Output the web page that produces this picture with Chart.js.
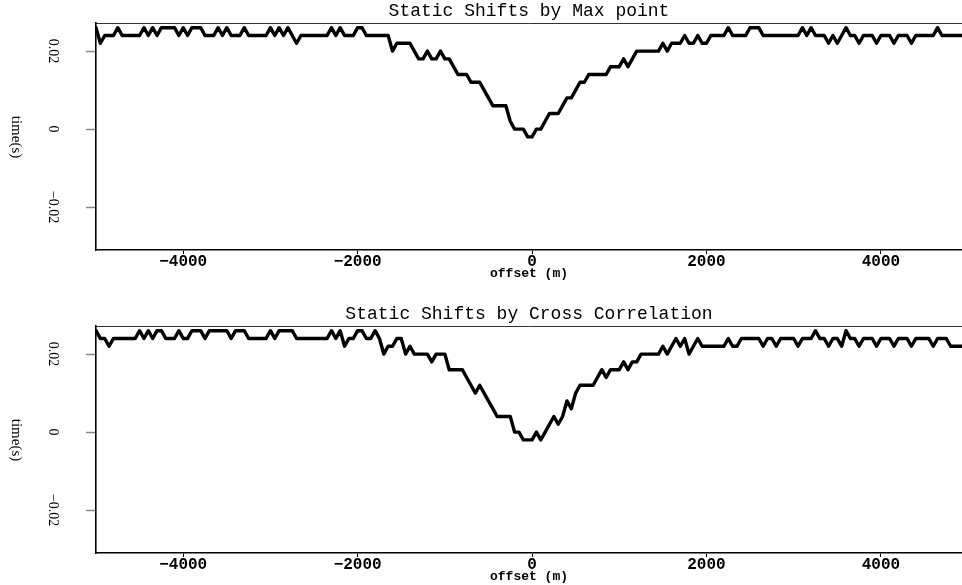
<!DOCTYPE html>
<html>
<head>
<meta charset="utf-8">
<script src="https://cdn.jsdelivr.net/npm/chart.js@4.4.1/dist/chart.umd.min.js"></script>
<style>
html,body{margin:0;padding:0;background:#fff;overflow:hidden;width:962px;height:585px;}
.panel{position:absolute;left:0;width:962px;height:303px;}
.ylab{position:absolute;font-family:"Liberation Serif",serif;font-size:15px;writing-mode:vertical-rl;transform:translate(-50%,-50%);white-space:nowrap;color:#000;line-height:1;}
</style>
</head>
<body>
<div class="panel" style="top:0"><canvas id="c1" width="962" height="303"></canvas></div>
<div class="panel" style="top:303px"><canvas id="c2" width="962" height="303"></canvas></div>
<div class="ylab" style="left:16px;top:137px">time(s)</div>
<div class="ylab" style="left:16px;top:440px">time(s)</div>
<script>
// ---- data ----
const panelTitles = ['Static Shifts by Max point', 'Static Shifts by Cross Correlation'];
const xAxisTitle = 'offset (m)';
const yAxisTitle = 'time(s)';
const xTickValues = [-4000, -2000, 0, 2000, 4000];
const xTickLabels = ['\u22124000', '\u22122000', '0', '2000', '4000'];
const yTickValues = [-0.02, 0, 0.02];
const yTickLabels = ['\u22120.02', '0', '0.02'];

const offsets = [
-5000,-4950,-4900,-4850,-4800,-4750,-4700,-4650,-4600,-4550,-4500,-4450,-4400,-4350,-4300,-4250,-4200,-4150,-4100,-4050,
-4000,-3950,-3900,-3850,-3800,-3750,-3700,-3650,-3600,-3550,-3500,-3450,-3400,-3350,-3300,-3250,-3200,-3150,-3100,-3050,
-3000,-2950,-2900,-2850,-2800,-2750,-2700,-2650,-2600,-2550,-2500,-2450,-2400,-2350,-2300,-2250,-2200,-2150,-2100,-2050,
-2000,-1950,-1900,-1850,-1800,-1750,-1700,-1650,-1600,-1550,-1500,-1450,-1400,-1350,-1300,-1250,-1200,-1150,-1100,-1050,
-1000,-950,-900,-850,-800,-750,-700,-650,-600,-550,-500,-450,-400,-350,-300,-250,-200,-150,-100,-50,
0,50,100,150,200,250,300,350,400,450,500,550,600,650,700,750,800,850,900,950,
1000,1050,1100,1150,1200,1250,1300,1350,1400,1450,1500,1550,1600,1650,1700,1750,1800,1850,1900,1950,
2000,2050,2100,2150,2200,2250,2300,2350,2400,2450,2500,2550,2600,2650,2700,2750,2800,2850,2900,2950,
3000,3050,3100,3150,3200,3250,3300,3350,3400,3450,3500,3550,3600,3650,3700,3750,3800,3850,3900,3950,
4000,4050,4100,4150,4200,4250,4300,4350,4400,4450,4500,4550,4600,4650,4700,4750,4800,4850,4900,4950
];

const maxPointShift = [
0.026,0.022,0.024,0.024,0.024,0.026,0.024,0.024,0.024,0.024,0.024,0.026,0.024,0.026,0.024,0.026,0.026,0.026,0.026,0.024,
0.026,0.024,0.026,0.026,0.026,0.024,0.024,0.024,0.026,0.024,0.026,0.024,0.024,0.024,0.026,0.024,0.024,0.024,0.024,0.024,
0.026,0.024,0.026,0.024,0.026,0.024,0.022,0.024,0.024,0.024,0.024,0.024,0.024,0.024,0.026,0.024,0.026,0.024,0.024,0.024,
0.026,0.026,0.024,0.024,0.024,0.024,0.024,0.024,0.020,0.022,0.022,0.022,0.022,0.020,0.018,0.018,0.020,0.018,0.018,0.020,
0.018,0.018,0.016,0.014,0.014,0.014,0.012,0.012,0.012,0.010,0.008,0.006,0.006,0.006,0.006,0.002,0.000,0.000,0.000,-0.002,
-0.002,0.000,0.000,0.002,0.004,0.004,0.004,0.006,0.008,0.008,0.010,0.012,0.012,0.014,0.014,0.014,0.014,0.014,0.016,0.016,
0.016,0.018,0.016,0.018,0.020,0.020,0.020,0.020,0.020,0.020,0.022,0.020,0.022,0.022,0.022,0.024,0.022,0.022,0.024,0.022,
0.022,0.024,0.024,0.024,0.024,0.026,0.024,0.024,0.024,0.024,0.026,0.026,0.026,0.024,0.024,0.024,0.024,0.024,0.024,0.024,
0.024,0.024,0.026,0.024,0.026,0.024,0.024,0.024,0.022,0.024,0.022,0.024,0.026,0.024,0.024,0.022,0.024,0.024,0.024,0.022,
0.024,0.024,0.024,0.022,0.024,0.024,0.024,0.022,0.024,0.024,0.024,0.024,0.024,0.026,0.024,0.024,0.024,0.024,0.024,0.024
];

const crossCorrShift = [
0.026,0.024,0.024,0.022,0.024,0.024,0.024,0.024,0.024,0.024,0.026,0.024,0.026,0.024,0.026,0.026,0.024,0.024,0.024,0.026,
0.024,0.024,0.026,0.026,0.026,0.024,0.026,0.026,0.026,0.026,0.026,0.024,0.026,0.026,0.026,0.024,0.024,0.024,0.024,0.024,
0.026,0.024,0.026,0.026,0.026,0.026,0.024,0.024,0.024,0.024,0.024,0.024,0.024,0.024,0.026,0.024,0.026,0.022,0.024,0.024,
0.026,0.026,0.024,0.024,0.026,0.024,0.020,0.022,0.022,0.024,0.024,0.020,0.022,0.020,0.020,0.020,0.020,0.018,0.020,0.020,
0.020,0.016,0.016,0.016,0.016,0.014,0.012,0.010,0.012,0.010,0.008,0.006,0.004,0.004,0.004,0.004,0.000,0.000,-0.002,-0.002,
-0.002,0.000,-0.002,0.000,0.002,0.004,0.002,0.004,0.008,0.006,0.010,0.012,0.012,0.012,0.012,0.014,0.016,0.014,0.016,0.016,
0.016,0.018,0.016,0.018,0.018,0.020,0.020,0.020,0.020,0.020,0.022,0.020,0.022,0.024,0.022,0.024,0.020,0.022,0.024,0.022,
0.022,0.022,0.022,0.022,0.022,0.024,0.022,0.022,0.024,0.024,0.024,0.024,0.024,0.022,0.024,0.024,0.022,0.024,0.024,0.024,
0.024,0.022,0.024,0.024,0.024,0.026,0.024,0.024,0.022,0.024,0.024,0.022,0.026,0.024,0.024,0.022,0.024,0.024,0.024,0.022,
0.024,0.024,0.024,0.022,0.024,0.024,0.024,0.022,0.024,0.024,0.024,0.024,0.022,0.024,0.024,0.024,0.022,0.022,0.022,0.022
];

// ---- chart ----
const X_MIN = -5000, X_MAX = 4930, Y_MIN = -0.031, Y_MAX = 0.0272;
const MONO = 'Liberation Mono';
const SERIF = 'Liberation Serif';

function makePanel(canvasId, title, values) {
  const pts = offsets.map((o, i) => ({x: o, y: values[i]}));
  return new Chart(document.getElementById(canvasId), {
    type: 'line',
    data: {
      datasets: [{
        data: pts,
        borderColor: '#000',
        borderWidth: 3.4,
        pointRadius: 0,
        tension: 0,
        fill: false,
        borderJoinStyle: 'round',
        borderCapStyle: 'round',
        xAxisID: 'x',
        yAxisID: 'y'
      }]
    },
    options: {
      responsive: false,
      maintainAspectRatio: false,
      animation: false,
      layout: {padding: 0},
      plugins: {legend: {display: false}, tooltip: {enabled: false}, title: {display: false}},
      scales: {
        x: {
          type: 'linear', position: 'bottom', min: X_MIN, max: X_MAX,
          afterBuildTicks: s => { s.ticks = xTickValues.map(v => ({value: v})); },
          afterFit: s => { s.height = 53; },
          ticks: {
            autoSkip: false, maxRotation: 0, minRotation: 0, padding: 0, color: '#000',
            font: {family: MONO, size: 16, weight: 'bold', lineHeight: 1},
            callback: v => xTickLabels[xTickValues.indexOf(v)]
          },
          grid: {display: true, drawOnChartArea: false, drawTicks: true, tickLength: 4, tickColor: '#000', tickWidth: 1},
          border: {display: true, color: '#000', width: 1.6},
          title: {
            display: true, text: xAxisTitle, color: '#000',
            font: {family: MONO, size: 13, weight: 'bold', lineHeight: 1.2},
            padding: {top: 0, bottom: 21}
          }
        },
        x2: {
          type: 'linear', position: 'top', min: X_MIN, max: X_MAX,
          afterFit: s => { s.height = 23; },
          ticks: {display: false},
          grid: {display: false, drawTicks: false},
          border: {display: true, color: '#333', width: 1},
          title: {
            display: true, text: title, color: '#000',
            font: {family: MONO, size: 18, weight: 'normal', lineHeight: 1.2},
            padding: {top: 0, bottom: 0}
          }
        },
        y: {
          type: 'linear', position: 'left', min: Y_MIN, max: Y_MAX,
          afterBuildTicks: s => { s.ticks = yTickValues.map(v => ({value: v})); },
          afterFit: s => { s.width = 96; s.paddingTop = 0; s.paddingBottom = 0; },
          ticks: {
            minRotation: -90, maxRotation: 90, crossAlign: 'center', padding: 17, color: '#000',
            font: {family: SERIF, size: 14},
            callback: v => yTickLabels[yTickValues.indexOf(v)]
          },
          grid: {display: true, drawOnChartArea: false, drawTicks: true, tickLength: 10, tickColor: '#888', tickWidth: 1.5},
          border: {display: true, color: '#000', width: 1.6}
        }
      }
    }
  });
}

makePanel('c1', panelTitles[0], maxPointShift);
makePanel('c2', panelTitles[1], crossCorrShift);
</script>
</body>
</html>
